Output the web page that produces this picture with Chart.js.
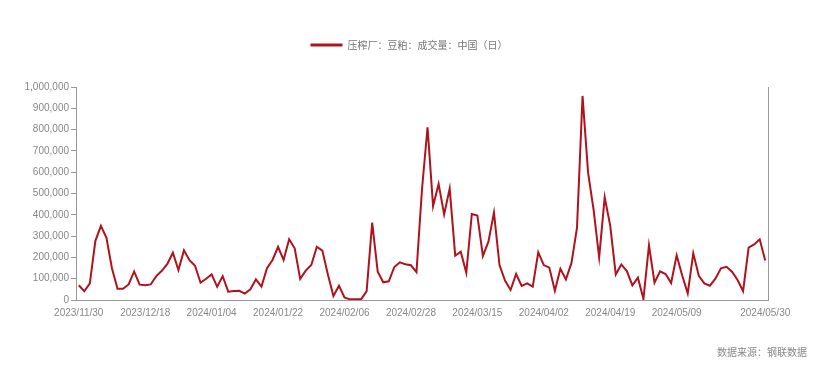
<!DOCTYPE html>
<html><head><meta charset="utf-8">
<script src="https://cdn.jsdelivr.net/npm/chart.js@4.4.1/dist/chart.umd.min.js"></script>
<style>
html,body{margin:0;padding:0;background:#fff;}
#wrap{position:relative;width:818px;height:366px;}
#source{position:absolute;right:11px;top:344px;font-family:"Noto Sans CJK SC";font-size:10px;color:#888;white-space:nowrap;}
</style></head><body>
<div id="wrap"><canvas id="c" width="818" height="366"></canvas><div id="source">数据来源：钢联数据</div></div>
<script>
const seriesName = '压榨厂：豆粕：成交量：中国（日）';
const dates = [
'2023/11/30','2023/12/01','2023/12/04','2023/12/05','2023/12/06','2023/12/07','2023/12/08',
'2023/12/11','2023/12/12','2023/12/13','2023/12/14','2023/12/15',
'2023/12/18','2023/12/19','2023/12/20','2023/12/21','2023/12/22',
'2023/12/25','2023/12/26','2023/12/27','2023/12/28','2023/12/29',
'2024/01/02','2024/01/03','2024/01/04','2024/01/05',
'2024/01/08','2024/01/09','2024/01/10','2024/01/11','2024/01/12',
'2024/01/15','2024/01/16','2024/01/17','2024/01/18','2024/01/19',
'2024/01/22','2024/01/23','2024/01/24','2024/01/25','2024/01/26',
'2024/01/29','2024/01/30','2024/01/31','2024/02/01','2024/02/02',
'2024/02/04','2024/02/05','2024/02/06','2024/02/07','2024/02/08','2024/02/09',
'2024/02/18','2024/02/19','2024/02/20','2024/02/21','2024/02/22','2024/02/23',
'2024/02/26','2024/02/27','2024/02/28','2024/02/29','2024/03/01',
'2024/03/04','2024/03/05','2024/03/06','2024/03/07','2024/03/08',
'2024/03/11','2024/03/12','2024/03/13','2024/03/14','2024/03/15',
'2024/03/18','2024/03/19','2024/03/20','2024/03/21','2024/03/22',
'2024/03/25','2024/03/26','2024/03/27','2024/03/28','2024/03/29',
'2024/04/01','2024/04/02','2024/04/03','2024/04/07',
'2024/04/08','2024/04/09','2024/04/10','2024/04/11','2024/04/12',
'2024/04/15','2024/04/16','2024/04/17','2024/04/18','2024/04/19',
'2024/04/22','2024/04/23','2024/04/24','2024/04/25','2024/04/26',
'2024/04/28','2024/04/29','2024/04/30',
'2024/05/06','2024/05/07','2024/05/08','2024/05/09','2024/05/10','2024/05/11',
'2024/05/13','2024/05/14','2024/05/15','2024/05/16','2024/05/17',
'2024/05/20','2024/05/21','2024/05/22','2024/05/23','2024/05/24',
'2024/05/27','2024/05/28','2024/05/29','2024/05/30'
];
const volume = [
69000,41000,78000,278000,348000,292000,148000,
53000,53000,73000,134000,72000,
69000,73000,112000,137000,169000,
222000,141000,233000,187000,161000,
81000,100000,120000,62000,
112000,39000,42000,43000,30000,
50000,97000,63000,149000,188000,
250000,188000,285000,243000,99000,
138000,164000,250000,232000,120000,
19000,67000,12000,3000,3000,3000,
42000,363000,133000,83000,88000,155000,
177000,168000,163000,131000,520000,
811000,441000,545000,402000,523000,
208000,227000,128000,404000,397000,
207000,274000,410000,164000,91000,
47000,122000,66000,78000,63000,
224000,164000,152000,43000,
147000,97000,174000,340000,958000,
598000,423000,200000,482000,349000,
120000,167000,136000,69000,105000,
5000,257000,81000,
135000,122000,80000,210000,115000,31000,
219000,114000,78000,67000,100000,
149000,156000,133000,94000,42000,
246000,261000,285000,186000
];
const xLabelIndexes = [0,12,24,36,48,60,72,84,96,108,124];
const xTickMarkIndexes = [0,12,24,36,48,60,72,84,96,108,120];
const yMin = 0, yMax = 1000000, yStep = 100000;

const lineColor = '#B0131D';
const axisColor = '#999999';
const labelColor = '#888888';

const legendSpacer = {
  id: 'legendSpacer',
  beforeInit(chart) {
    const fit = chart.legend.fit;
    chart.legend.fit = function () { fit.call(this); this.height += 27; };
  }
};

new Chart(document.getElementById('c'), {
  type: 'line',
  data: {
    labels: dates,
    datasets: [{
      label: seriesName,
      data: volume,
      borderColor: lineColor,
      backgroundColor: lineColor,
      borderWidth: 2,
      pointRadius: 0,
      pointHoverRadius: 0,
      tension: 0,
      yAxisID: 'y'
    }]
  },
  options: {
    responsive: false,
    animation: false,
    devicePixelRatio: 1,
    layout: { padding: { top: 3, left: 0, right: 0, bottom: 0 } },
    plugins: {
      tooltip: { enabled: false },
      legend: {
        position: 'top',
        align: 'center',
        labels: {
          boxWidth: 32,
          boxHeight: 3,
          padding: 37,
          color: '#777777',
          font: { family: 'Noto Sans CJK SC', size: 10 },
          generateLabels(chart) {
            return Chart.defaults.plugins.legend.labels.generateLabels(chart).map(l => Object.assign(l, { lineWidth: 0, fillStyle: lineColor }));
          }
        }
      }
    },
    scales: {
      x: {
        type: 'category',
        offset: true,
        grid: {
          offset: true,
          drawOnChartArea: false,
          drawTicks: true,
          tickLength: 5,
          color: 'rgba(0,0,0,0)',
          tickColor: ctx => (ctx.type !== 'tick' || xTickMarkIndexes.includes(ctx.index)) ? axisColor : 'rgba(0,0,0,0)'
        },
        border: { color: axisColor, width: 1 },
        ticks: {
          autoSkip: false,
          maxRotation: 0,
          minRotation: 0,
          padding: 2,
          color: labelColor,
          font: { family: 'Liberation Sans', size: 10 },
          callback: (v, i) => xLabelIndexes.includes(i) ? dates[i] : null
        },
        afterFit: s => { s.height = 66; }
      },
      y: {
        position: 'left',
        min: yMin,
        max: yMax,
        grid: { drawOnChartArea: false, drawTicks: true, tickLength: 5, tickColor: axisColor },
        border: { color: axisColor, width: 1 },
        ticks: {
          stepSize: yStep,
          padding: 2,
          color: labelColor,
          font: { family: 'Liberation Sans', size: 10 },
          callback: v => Number(v).toLocaleString('en-US')
        },
        afterFit: s => { s.width = 76; }
      },
      y2: {
        position: 'right',
        display: true,
        min: yMin,
        max: yMax,
        grid: { drawOnChartArea: false, drawTicks: false },
        border: { color: axisColor, width: 1 },
        ticks: { display: false },
        afterFit: s => { s.width = 50; }
      }
    }
  },
  plugins: [legendSpacer]
});
</script>
</body></html>
